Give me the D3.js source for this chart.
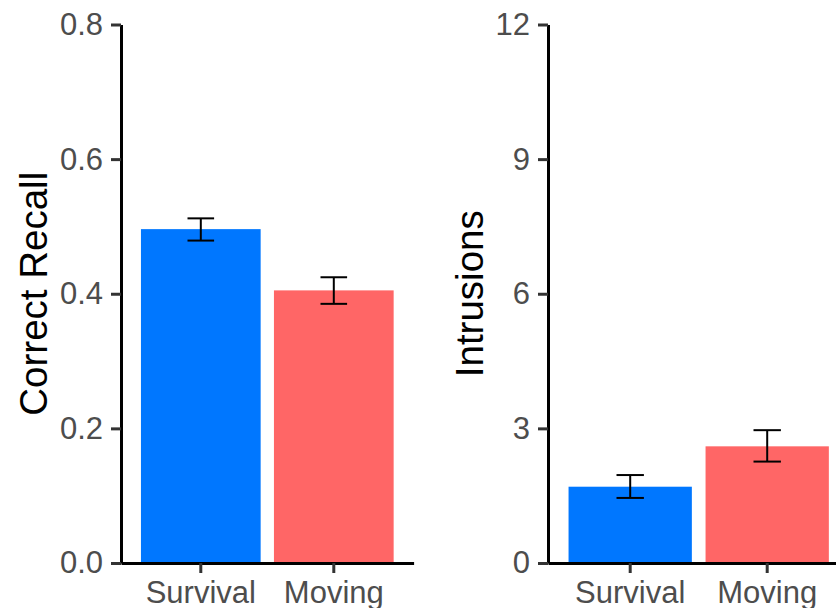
<!DOCTYPE html>
<html>
<head>
<meta charset="utf-8">
<script src="https://cdn.jsdelivr.net/npm/d3@7"></script>
<style>
  html, body { margin: 0; padding: 0; background: #ffffff; }
  svg { display: block; font-family: "Liberation Sans", Arial, sans-serif; }
</style>
</head>
<body>
<svg id="chart" width="836" height="608"></svg>
<script>
// ---- data ----
const categories = ["Survival", "Moving"];
const recallMean = [0.496, 0.405];
const recallLow  = [0.479, 0.385];
const recallHigh = [0.512, 0.4245];
const intrusionMean = [1.70, 2.60];
const intrusionLow  = [1.45, 2.26];
const intrusionHigh = [1.96, 2.96];
const recallTicks = [0, 0.2, 0.4, 0.6, 0.8];
const intrusionTicks = [0, 3, 6, 9, 12];

const barColors = ["#0077FF", "#FF6666"];

const svg = d3.select("#chart");

function panel(opts) {
  const g = svg.append("g");
  const x = d3.scaleBand().domain(categories)
    .range([opts.x0, opts.x1]).paddingInner(0.1).paddingOuter(0.15);
  const y = d3.scaleLinear().domain([0, opts.max]).range([opts.yBottom, opts.yTop]);

  // bars
  g.selectAll("rect.bar").data(categories).enter().append("rect")
    .attr("class", "bar")
    .attr("x", d => x(d))
    .attr("width", x.bandwidth())
    .attr("y", (d, i) => y(opts.mean[i]))
    .attr("height", (d, i) => y(0) - y(opts.mean[i]))
    .attr("fill", (d, i) => barColors[i]);

  // error bars
  const capW = x.step() * 0.2;
  const eb = g.selectAll("g.eb").data(categories).enter().append("g")
    .attr("stroke", "#000").attr("stroke-width", 2).attr("fill", "none");
  eb.append("line")
    .attr("x1", d => x(d) + x.bandwidth() / 2).attr("x2", d => x(d) + x.bandwidth() / 2)
    .attr("y1", (d, i) => y(opts.low[i])).attr("y2", (d, i) => y(opts.high[i]));
  eb.append("line")
    .attr("x1", d => x(d) + x.bandwidth() / 2 - capW / 2).attr("x2", d => x(d) + x.bandwidth() / 2 + capW / 2)
    .attr("y1", (d, i) => y(opts.high[i])).attr("y2", (d, i) => y(opts.high[i]));
  eb.append("line")
    .attr("x1", d => x(d) + x.bandwidth() / 2 - capW / 2).attr("x2", d => x(d) + x.bandwidth() / 2 + capW / 2)
    .attr("y1", (d, i) => y(opts.low[i])).attr("y2", (d, i) => y(opts.low[i]));

  // y axis
  const yAxis = d3.axisLeft(y).tickValues(opts.ticks).tickFormat(opts.fmt)
    .tickSize(10).tickPadding(8).tickSizeOuter(0);
  const ya = g.append("g").attr("transform", `translate(${opts.x0},0)`).call(yAxis);
  ya.select(".domain").attr("stroke", "#000").attr("stroke-width", 3);
  ya.selectAll(".tick line").attr("stroke", "#333333").attr("stroke-width", 3);
  ya.selectAll(".tick text").attr("fill", "#4D4D4D").attr("font-size", 31)
    .attr("font-family", "'Liberation Sans', Arial, sans-serif");

  // x axis
  const xAxis = d3.axisBottom(x).tickSize(10).tickPadding(8).tickSizeOuter(0);
  const xa = g.append("g").attr("transform", `translate(0,${opts.yBottom})`).call(xAxis);
  xa.select(".domain").attr("stroke", "#000").attr("stroke-width", 3);
  xa.selectAll(".tick line").attr("stroke", "#333333").attr("stroke-width", 3);
  xa.selectAll(".tick text").attr("fill", "#4D4D4D").attr("font-size", 31)
    .attr("font-family", "'Liberation Sans', Arial, sans-serif");

  // y title
  g.append("text")
    .attr("transform", `translate(${opts.titleX},${(opts.yTop + opts.yBottom) / 2}) rotate(-90)`)
    .attr("text-anchor", "middle")
    .attr("font-size", 38.5)
    .attr("fill", "#000")
    .text(opts.title);
}

panel({
  x0: 121, x1: 413.6, yTop: 24.5, yBottom: 563, max: 0.8,
  mean: recallMean, low: recallLow, high: recallHigh,
  ticks: recallTicks, fmt: d3.format(".1f"),
  title: "Correct Recall", titleX: 47
});

panel({
  x0: 548, x1: 849.4, yTop: 24.5, yBottom: 563, max: 12,
  mean: intrusionMean, low: intrusionLow, high: intrusionHigh,
  ticks: intrusionTicks, fmt: d3.format("d"),
  title: "Intrusions", titleX: 483
});
</script>
</body>
</html>
